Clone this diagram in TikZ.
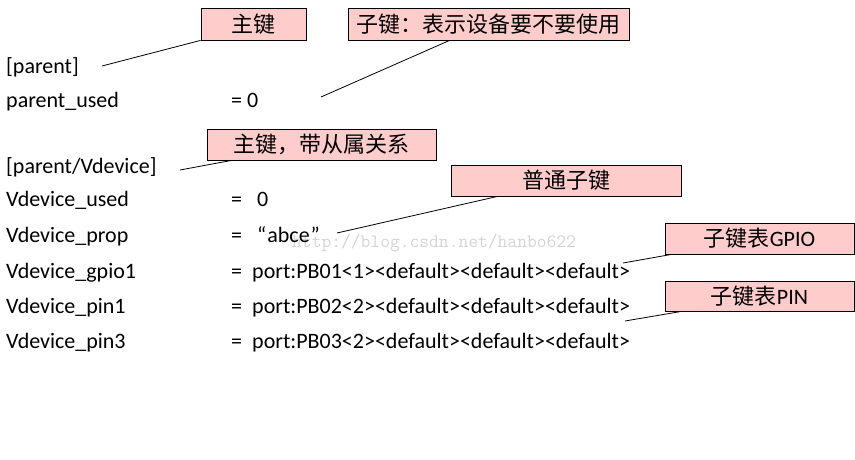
\documentclass[tikz,border=0pt]{standalone}
\usepackage{fontspec}
\setmainfont{Carlito}
\newfontfamily\cjk{Noto Sans CJK SC}
\usetikzlibrary{calc}
\definecolor{boxpink}{HTML}{FFCCCC}
\tikzset{
  keytext/.style={anchor=base west, inner sep=0pt, font=\fontsize{22}{24}\selectfont},
  callout/.style={draw=black, line width=0.8pt, fill=boxpink, inner sep=0pt,
     font=\fontsize{22}{24}\selectfont\cjk},
  leader/.style={line width=0.8pt, draw=black}
}
\begin{document}
\begin{tikzpicture}[x=1pt,y=-1pt]
\useasboundingbox (0,0) rectangle (855,460);
% watermark
\node[anchor=base west, inner sep=0pt, text=black!17, font=\fontsize{19}{20}\ttfamily] (wm) at (292,247) {http://blog.csdn.net/hanbo622};
% left column
\node[keytext] (k1) at (6,74) {[parent]};
\node[keytext] (k2) at (6,107) {parent\_used};
\node[keytext] (k3) at (6,173) {[parent/Vdevice]};
\node[keytext] (k4) at (6,206) {Vdevice\_used};
\node[keytext] (k5) at (6,242) {Vdevice\_prop};
\node[keytext] (k6) at (6,278) {Vdevice\_gpio1};
\node[keytext] (k7) at (6,313) {Vdevice\_pin1};
\node[keytext] (k8) at (6,348) {Vdevice\_pin3};
% values
\node[keytext] (v2) at (231,107) {= 0};
\node[keytext] (e4) at (231,206) {=};
\node[keytext] (v4) at (257,206) {0};
\node[keytext] (e5) at (231,242) {=};
\node[keytext] (v5) at (257,242) {“\kern1pt abce\kern1pt ”};
\node[keytext] (e6) at (231,278) {=};
\node[keytext] (v6) at (252,278) {port:PB01<1><default><default><default>};
\node[keytext] (e7) at (231,313) {=};
\node[keytext] (v7) at (252,313) {port:PB02<2><default><default><default>};
\node[keytext] (e8) at (231,348) {=};
\node[keytext] (v8) at (252,348) {port:PB03<2><default><default><default>};
% callout boxes
\node[callout, minimum width=105pt, minimum height=32pt] (b1) at (253.5,24) {主键};
\node[callout, minimum width=281pt, minimum height=32pt] (b2) at (488.5,24) {子键：表示设备要不要使用};
\node[callout, minimum width=229pt, minimum height=31pt] (b3) at (321.5,144.5) {主键，带从属关系};
\node[callout, minimum width=230pt, minimum height=31pt] (b4) at (566,180.5) {普通子键};
\node[callout, minimum width=189pt, minimum height=31pt] (b5) at (759.5,238.5) {子键表{\rmfamily GPIO}};
\node[callout, minimum width=189pt, minimum height=30pt] (b6) at (759.5,296) {子键表{\rmfamily PIN}};
% leader free ends
\coordinate (c1) at (102,66);
\coordinate (c2) at (321,97);
\coordinate (c3) at (180,170);
\coordinate (c4) at (337,233);
\coordinate (c5) at (623,263);
\coordinate (c6) at (625,321);
\draw[leader] (c1) -- (b1.south west);
\draw[leader] (c2) -- ($(b2.south west)+(102,0)$);
\draw[leader] (c3) -- ($(b3.south west)+(25,0)$);
\draw[leader] (c4) -- ($(b4.south west)+(47,0)$);
\draw[leader] (c5) -- ($(b5.south west)+(7,0)$);
\draw[leader] (c6) -- ($(b6.south west)+(17,0)$);
\end{tikzpicture}
\end{document}
